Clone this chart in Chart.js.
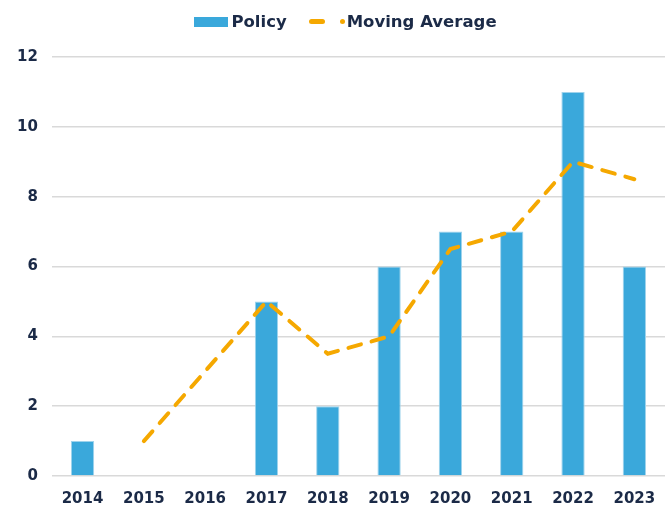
<!DOCTYPE html>
<html>
<head>
<meta charset="utf-8">
<script src="https://cdn.jsdelivr.net/npm/chart.js@4.4.1/dist/chart.umd.min.js"></script>
<style>
  html, body { margin: 0; padding: 0; background: #fff; overflow: hidden; }
  #wrap { position: relative; width: 671px; height: 510px; overflow: hidden; }
  #legend {
    position: absolute; top: 12px; left: 10px; width: 671px;
    display: flex; justify-content: center; align-items: center;
    font-family: "DejaVu Sans", sans-serif; font-weight: bold;
    font-size: 16.5px; color: #1b2a47;
  }
  .item { display: flex; align-items: center; }
  .sw-bar { width: 34px; height: 10px; background: #3aa8db; margin-right: 3px; }
  .sw-line { width: 16px; height: 5px; border-radius: 3px; background: #f5a800; margin: 0 15px 0 22px; }
  .sw-dot { width: 5px; height: 5px; border-radius: 50%; background: #f5a800; margin-right: 2px; }
  canvas { position: absolute; top: 0; left: 0; }
</style>
</head>
<body>
<div id="wrap">
  <canvas id="chart" width="671" height="524"></canvas>
  <div id="legend">
    <div class="item"><span class="sw-bar"></span>Policy</div>
    <div class="item"><span class="sw-line"></span><span class="sw-dot"></span>Moving Average</div>
  </div>
</div>
<script>
const years = ["2014", "2015", "2016", "2017", "2018", "2019", "2020", "2021", "2022", "2023"];
const policy = [1, 0, 0, 5, 2, 6, 7, 7, 11, 6];
const movingAvg = [null, 1, 3, 5, 3.5, 4, 6.5, 7, 9, 8.5];

const TEXT = "#1b2a47";
const FONT = { family: "'DejaVu Sans', sans-serif", size: 15, weight: "bold" };

new Chart(document.getElementById("chart"), {
  type: "bar",
  data: {
    labels: years,
    datasets: [
      {
        type: "line",
        label: "Moving Average",
        data: movingAvg,
        borderColor: "#f5a800",
        borderWidth: 4,
        borderDash: [13, 11],
        borderCapStyle: "round",
        pointRadius: 0,
        fill: false,
        tension: 0,
        order: 0,
      },
      {
        label: "Policy",
        data: policy,
        backgroundColor: "#3aa8db",
        borderColor: "#9fd3ec",
        borderWidth: 1,
        barPercentage: 0.38,
        categoryPercentage: 1,
        order: 1,
      },
    ],
  },
  options: {
    responsive: false,
    animation: false,
    layout: { padding: { top: 57, right: 6, left: 3, bottom: 2 } },
    plugins: { legend: { display: false }, tooltip: { enabled: false } },
    scales: {
      y: {
        min: 0,
        max: 12,
        ticks: { stepSize: 2, color: TEXT, font: FONT, padding: 14 },
        grid: { color: "#d9d9d9", lineWidth: 1.5, drawTicks: false },
        border: { display: false },
      },
      x: {
        ticks: { color: TEXT, font: FONT, padding: 14 },
        grid: { display: false, drawTicks: false },
        border: { display: false },
      },
    },
  },
});
</script>
</body>
</html>
